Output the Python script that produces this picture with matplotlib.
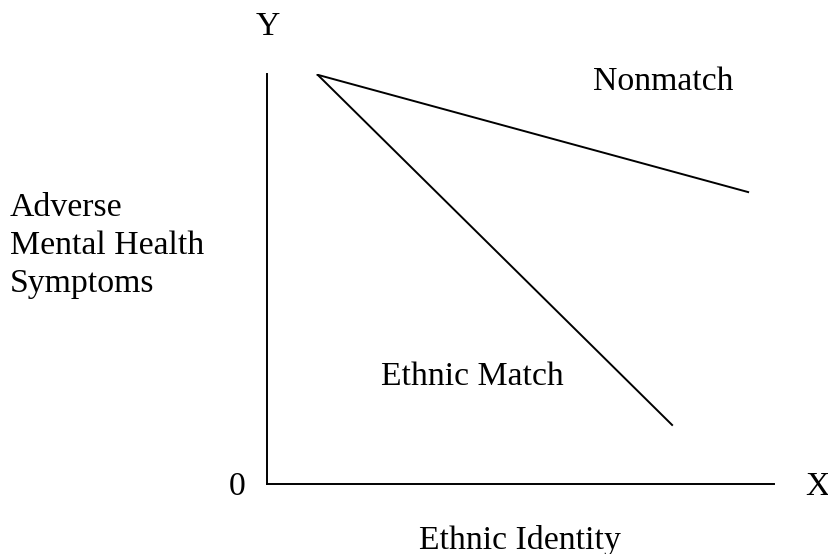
import matplotlib.pyplot as plt

plt.rcParams['font.family'] = ['Liberation Serif', 'DejaVu Serif']

# line endpoints in data units (x: ethnic identity, y: symptoms)
start = (1.0, 9.98)
nonmatch_end = (9.49, 7.12)
match_end = (7.99, 1.44)

W, H = 829, 554
fig = plt.figure(figsize=(W / 100, H / 100), dpi=100)

# axes box in pixels: left 267, right 774, top 74, bottom 484
ax = fig.add_axes([267 / W, 1 - 484 / H, (774 - 267) / W, (484 - 74) / H])
ax.set_xlim(0, 10)
ax.set_ylim(0, 10)
for s in ['top', 'right']:
    ax.spines[s].set_visible(False)
for s in ['left', 'bottom']:
    ax.spines[s].set_linewidth(1.4)
ax.set_xticks([])
ax.set_yticks([])

ax.plot([start[0], nonmatch_end[0]], [start[1], nonmatch_end[1]], color='black', lw=1.4)
ax.plot([start[0], match_end[0]], [start[1], match_end[1]], color='black', lw=1.4)

fs = 24.3


def label(px, py, s, ha='center'):
    fig.text(px / W, 1 - py / H, s, ha=ha, va='center', fontsize=fs)


label(268, 27, 'Y')
label(237, 487, '0')
label(817, 487, 'X')
label(520, 540, 'Ethnic Identity')
label(663, 82, 'Nonmatch')
label(472, 377, 'Ethnic Match')
label(10, 208, 'Adverse', ha='left')
label(10, 246, 'Mental Health', ha='left')
label(10, 284, 'Symptoms', ha='left')

fig.savefig('out.png', dpi=100)
